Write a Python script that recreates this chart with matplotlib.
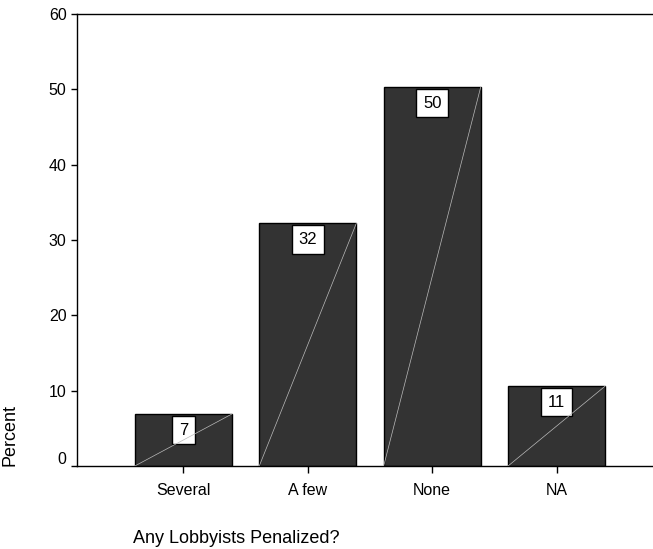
import matplotlib.pyplot as plt
from matplotlib.transforms import ScaledTranslation

plt.rcParams['font.family'] = ['Liberation Sans', 'DejaVu Sans']

categories = ['Several', 'A few', 'None', 'NA']
percent = [6.9, 32.2, 50.3, 10.6]
labels = ['7', '32', '50', '11']

fig = plt.figure(figsize=(6.53, 5.49), dpi=100)
ax = fig.add_axes([0.1179, 0.1512, 0.8806, 0.8233])

x = list(range(len(categories)))
bars = ax.bar(x, percent, width=0.78, color='#333333', edgecolor='black', linewidth=1)

for b, lab in zip(bars, labels):
    cx = b.get_x() + b.get_width() / 2
    top = b.get_height()
    ax.annotate(lab, (cx, top), xytext=(0, -16), textcoords='offset pixels',
                ha='center', va='center', fontsize=12, zorder=4,
                bbox=dict(boxstyle='square,pad=0.4', fc='white', ec='black', lw=1))
    # thin diagonal highlight across the bar
    ax.plot([b.get_x(), b.get_x() + b.get_width()], [0, top],
            color='#bbbbbb', linewidth=0.5, zorder=5)

ax.set_xlim(-0.855, 3.767)
ax.set_ylim(0, 60)
ax.set_yticks(range(0, 61, 10))
ax.set_xticks(x)
ax.set_xticklabels(categories, fontsize=11.5)
ax.tick_params(axis='y', labelsize=11.5, length=4, width=1)
ax.tick_params(axis='x', length=5, width=1, pad=7)
ax.spines['right'].set_visible(False)
for s in ['top', 'left', 'bottom']:
    ax.spines[s].set_linewidth(1)

# the "0" label sits a little above its tick
zero = ax.yaxis.get_major_ticks()[0].label1
zero.set_transform(zero.get_transform() + ScaledTranslation(0, 0.08, fig.dpi_scale_trans))

ax.set_ylabel('Percent', fontsize=13)
ax.yaxis.label.set_rotation_mode('default')
ax.yaxis.label.set_ha('center')
ax.yaxis.label.set_va('bottom')
ax.yaxis.set_label_coords(-0.117, 0.0)
ax.set_xlabel('Any Lobbyists Penalized?', fontsize=13, ha='left', va='center')
ax.xaxis.set_label_coords(0.097, -0.161)

fig.savefig('out.png', dpi=100)
